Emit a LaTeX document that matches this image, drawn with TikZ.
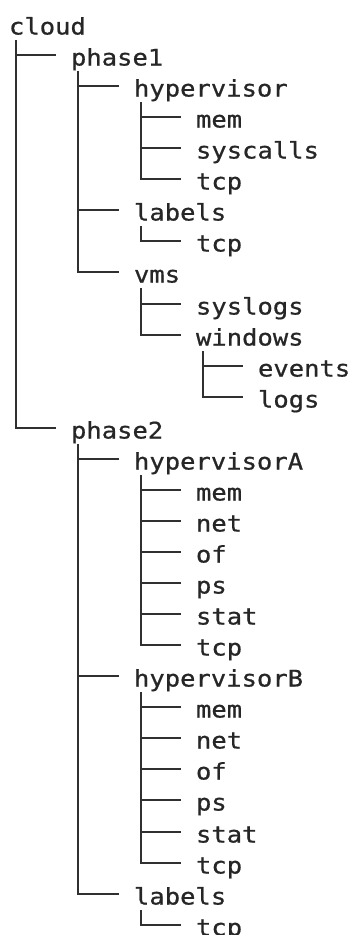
\documentclass[tikz,border=0pt]{standalone}
\usepackage{fontspec}
\newfontfamily\treefont[FakeStretch=1.12, FakeBold=0.8]{DejaVu Sans Mono}
\usetikzlibrary{calc}
\definecolor{ink}{HTML}{262626}
\definecolor{wire}{HTML}{303030}
\tikzset{
  item/.style={anchor=base west, inner sep=0pt, outer sep=0pt, text=ink,
    font=\treefont\fontsize{22.8}{27}\selectfont},
  conn/.style={draw=wire, line width=2pt, line join=miter, line cap=butt}
}
\begin{document}
\begin{tikzpicture}[x=1pt, y=-1pt]
\useasboundingbox (0,0) rectangle (353,935);
% rows: name / level / row / text
\foreach \n/\l/\r/\t in {
  n0/0/0/cloud, n1/1/1/phase1, n2/2/2/hypervisor, n3/3/3/mem, n4/3/4/syscalls,
  n5/3/5/tcp, n6/2/6/labels, n7/3/7/tcp, n8/2/8/vms, n9/3/9/syslogs,
  n10/3/10/windows, n11/4/11/events, n12/4/12/logs, n13/1/13/phase2,
  n14/2/14/hypervisorA, n15/3/15/mem, n16/3/16/net, n17/3/17/of, n18/3/18/ps,
  n19/3/19/stat, n20/3/20/tcp, n21/2/21/hypervisorB, n22/3/22/mem, n23/3/23/net,
  n24/3/24/of, n25/3/25/ps, n26/3/26/stat, n27/3/27/tcp, n28/2/28/labels,
  n29/3/29/tcp}
  {
  \pgfmathsetmacro{\px}{round(10+62.3*\l)-1}
  \pgfmathsetmacro{\py}{round(24+31.06*\r)+10.5}
  \node[item] (\n) at (\px, \py) {\t};
  }
% horizontal branches: parent / child
\foreach \a/\b in {n0/n1, n1/n2, n1/n6, n2/n3, n2/n4, n8/n9, n10/n11, n13/n14, n13/n21,
  n14/n15, n14/n16, n14/n17, n14/n18, n14/n19, n21/n22, n21/n23, n21/n24, n21/n25, n21/n26}
  \draw[conn] let \p1=($(\b.base west)+(-15,-10.5)$), \p2=($(\a.base west)+(7,0)$) in
    (\p1) -- (\x2-1pt,\y1);
% vertical trunk from parent to its last child
\foreach \a/\b in {n0/n13, n1/n8, n2/n5, n6/n7, n8/n10, n10/n12, n13/n28, n14/n20, n21/n27, n28/n29}
  \draw[conn] ($(\a.base west)+(7,5.5)$) |- ($(\b.base west)+(-15,-10.5)$);
\end{tikzpicture}
\end{document}
